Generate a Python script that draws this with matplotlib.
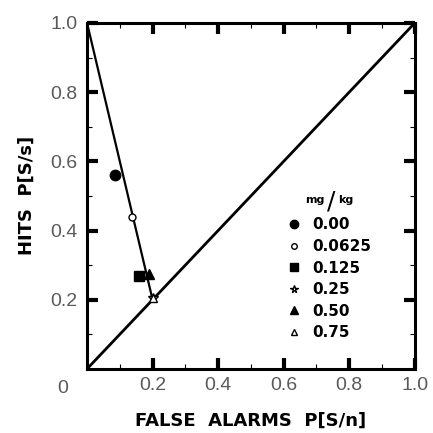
import matplotlib
matplotlib.use('Agg')
import matplotlib.pyplot as plt
from matplotlib.lines import Line2D

# ROC points for each dose (false alarms, hits)
doses = ['0.00', '0.0625', '0.125', '0.25', '0.50', '0.75']
false_alarms = [0.085, 0.137, 0.16, 0.2, 0.19, 0.2]
hits = [0.56, 0.44, 0.27, 0.205, 0.275, 0.205]
markers = ['o', 'o', 's', '*', '^', '^']
filled = [True, False, True, False, True, False]
sizes = [7.5, 5, 7, 7, 7, 6]

# fitted ROC line and chance diagonal
fit_x = [0.0, 0.2]
fit_y = [1.0, 0.2]
chance = [0.0, 1.0]

tick_vals = [0.2, 0.4, 0.6, 0.8, 1.0]
tick_labels = ['0.2', '0.4', '0.6', '0.8', '1.0']

fig = plt.figure(figsize=(4.33, 4.33), dpi=100)
ax = fig.add_axes([0.201, 0.148, 0.757, 0.799])

ax.plot(chance, chance, 'k-', lw=2.0, solid_capstyle='butt')
ax.plot(fit_x, fit_y, 'k-', lw=1.6)

for x, y, m, f, s in zip(false_alarms, hits, markers, filled, sizes):
    ax.plot(x, y, marker=m, ms=s, color='k', mfc='k' if f else 'white',
            mew=1.0, linestyle='none', clip_on=False)

ax.set_xlim(0, 1)
ax.set_ylim(0, 1)
for sp in ax.spines.values():
    sp.set_linewidth(2.2)

ax.set_xticks(tick_vals)
ax.set_xticklabels(tick_labels)
ax.set_yticks(tick_vals)
ax.set_yticklabels(tick_labels)
ax.set_xticks([0.1, 0.3, 0.5, 0.7, 0.9], minor=True)
ax.set_yticks([0.1, 0.3, 0.5, 0.7, 0.9], minor=True)
ax.tick_params(which='major', direction='in', length=8, width=3,
               top=True, right=True, labelsize=14, labelcolor='#5a5a5a')
ax.tick_params(which='minor', direction='in', length=3.5, width=0.8,
               top=True, right=True)
ax.tick_params(axis='x', pad=6)
ax.tick_params(axis='y', pad=7)
for lab in ax.get_xticklabels() + ax.get_yticklabels():
    lab.set_family('Liberation Sans')

ax.text(-0.073, -0.058, '0', fontsize=14, color='#5a5a5a',
        family='Liberation Sans', ha='center', va='center')

ax.set_xlabel('FALSE  ALARMS  P[S/n]', fontsize=13, fontweight='bold')
ax.set_ylabel('HITS  P[S/s]', fontsize=13, fontweight='bold')
ax.xaxis.set_label_coords(0.5, -0.125)
ax.yaxis.set_label_coords(-0.155, 0.5)

# legend
handles = [Line2D([], [], marker=m, ms=s * 0.8, color='k',
                  mfc='k' if f else 'white', mew=1.0, linestyle='none')
           for m, f, s in zip(markers, filled, sizes)]
ax.legend(handles, doses, loc='upper left', bbox_to_anchor=(0.585, 0.46),
          frameon=False, borderpad=0, handlelength=1.0, handletextpad=0.7,
          labelspacing=0.43, prop={'weight': 'bold', 'size': 11})
ax.text(0.695, 0.487, 'mg', fontsize=8, fontweight='bold', ha='center', va='center')
ax.text(0.745, 0.485, '/', fontsize=18, ha='center', va='center')
ax.text(0.79, 0.487, 'kg', fontsize=8, fontweight='bold', ha='center', va='center')

fig.savefig('out.png', dpi=100)
